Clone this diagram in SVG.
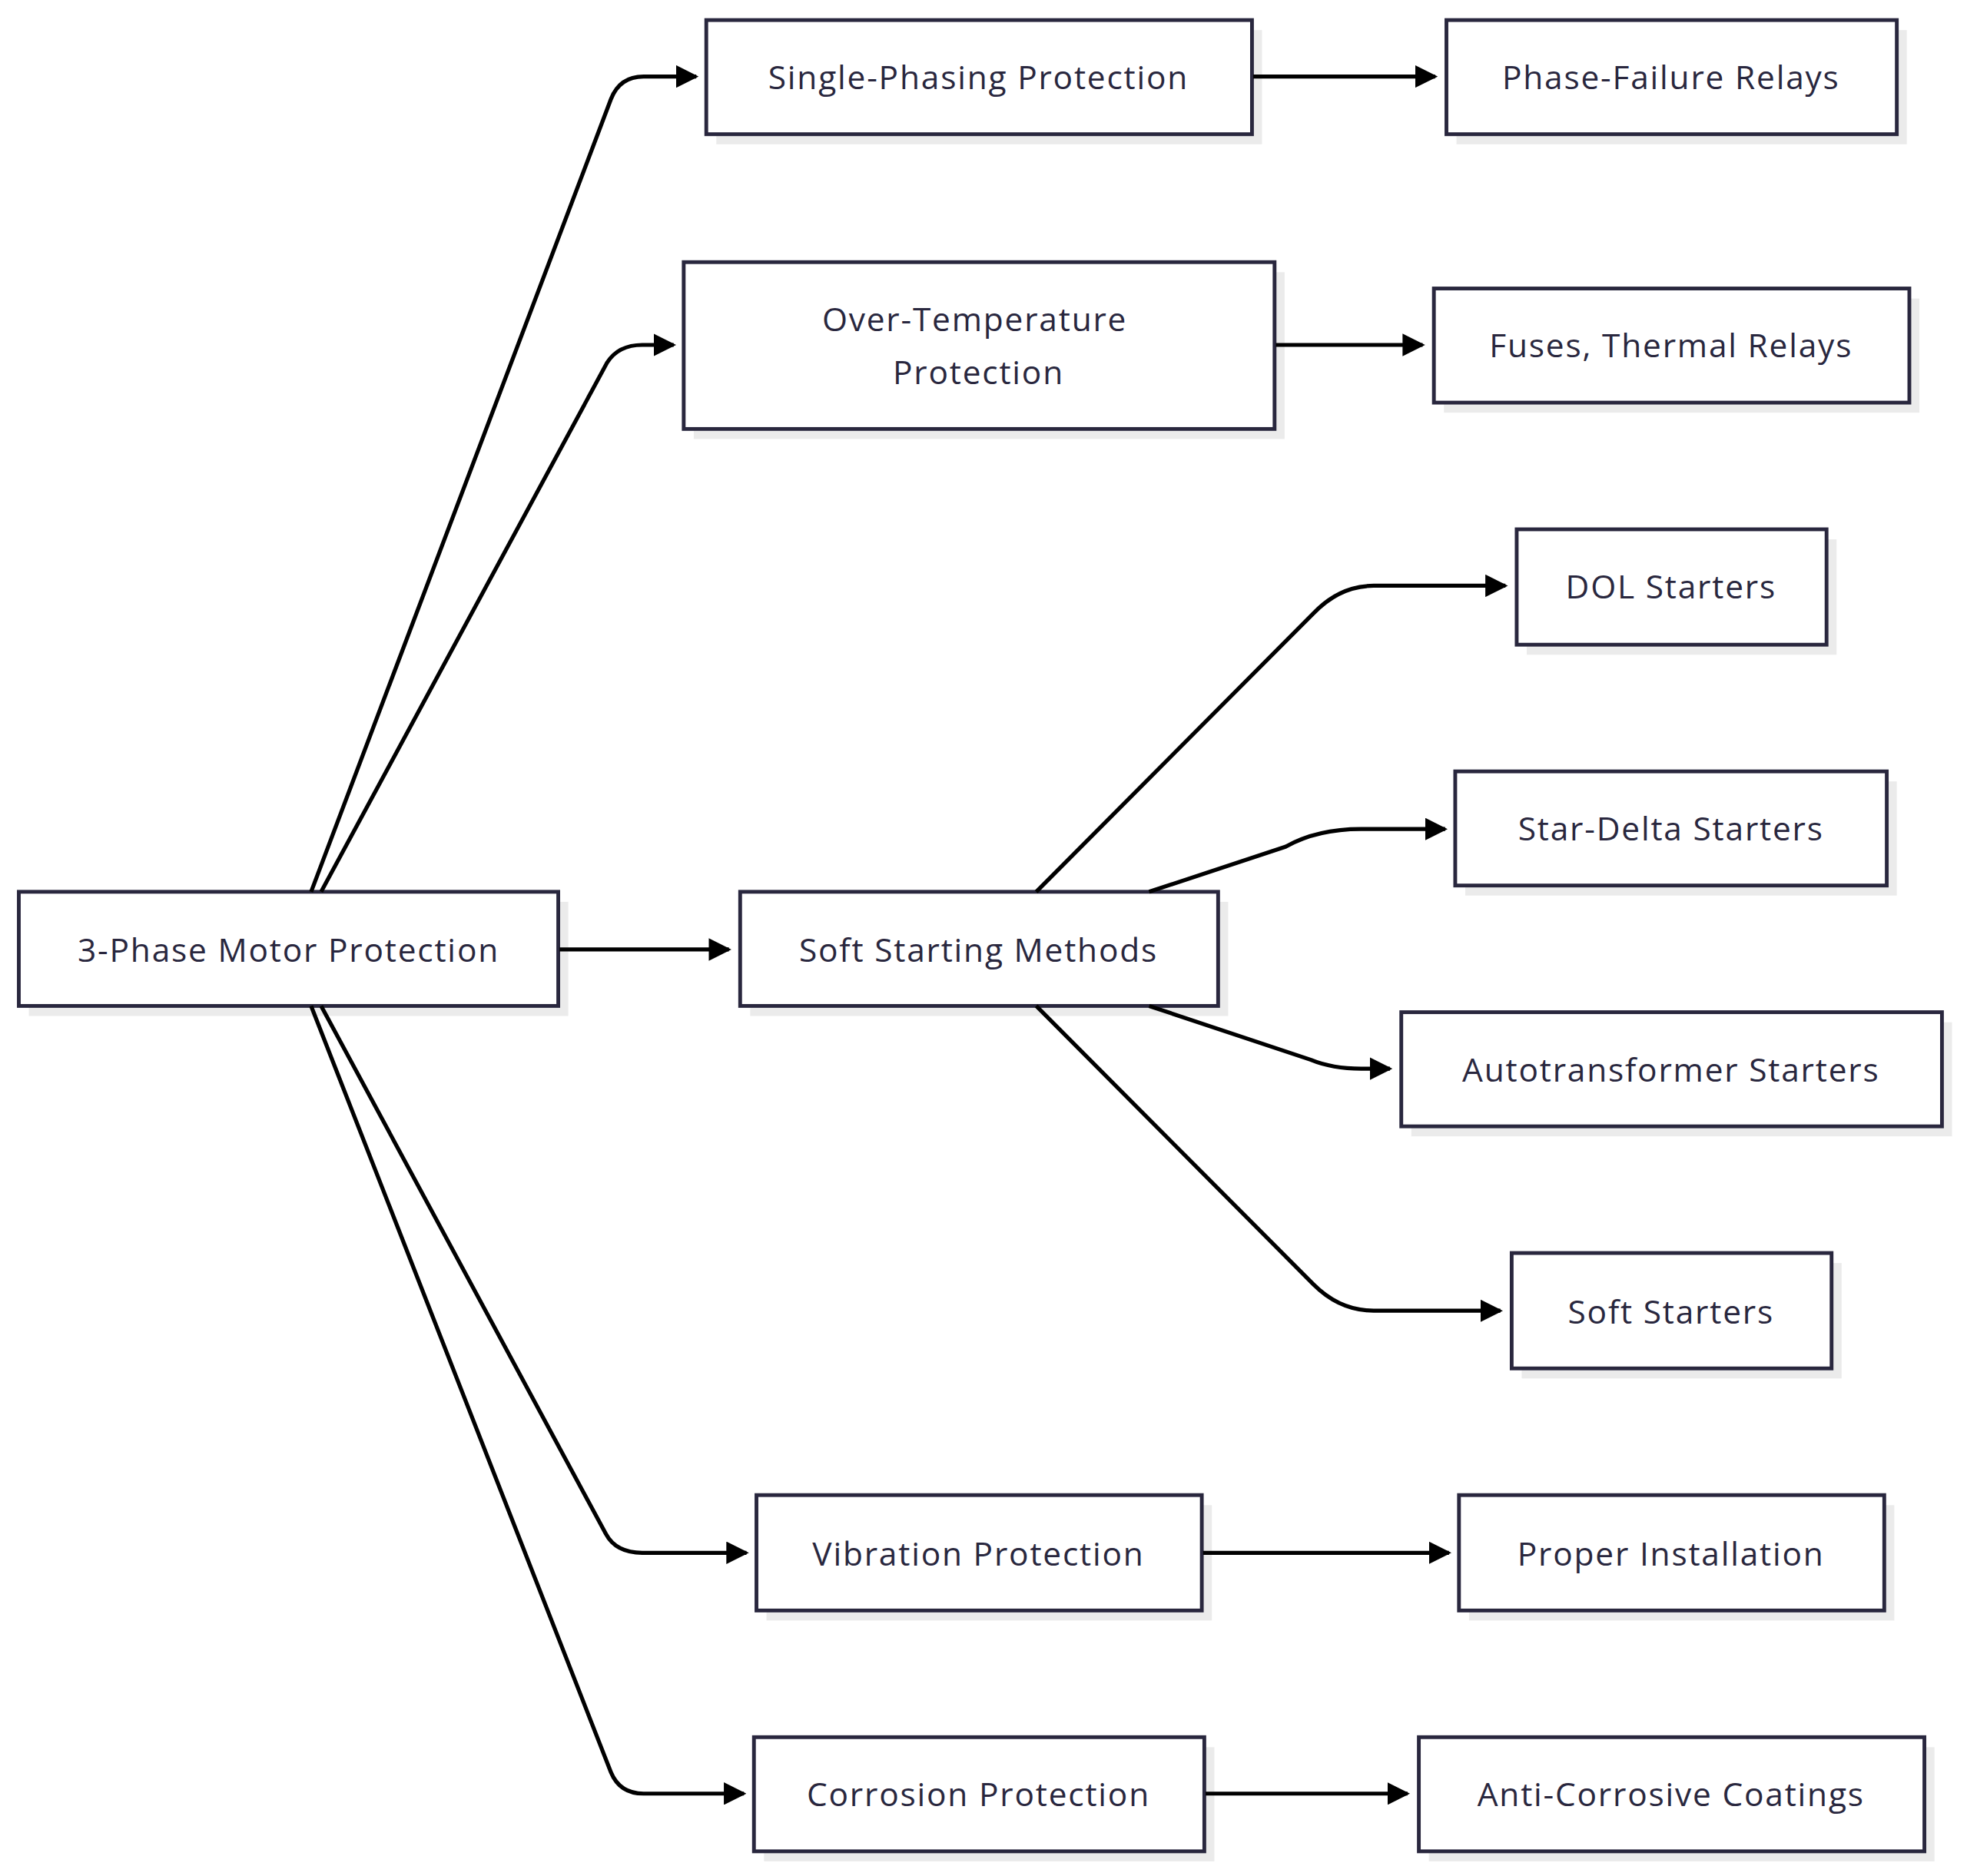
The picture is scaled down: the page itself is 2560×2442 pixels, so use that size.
<svg xmlns="http://www.w3.org/2000/svg" width="2560" height="2442" viewBox="0 0 2560 2442">
<style>
.n rect.s{fill:#ebebeb}
.n rect.b{fill:#fff;stroke:#29273e;stroke-width:3}
.n text{font-family:"Open Sans","DejaVu Sans",sans-serif;font-size:26px;fill:#29273e;text-anchor:middle;dominant-baseline:central;letter-spacing:1.1px}
.e path{fill:none;stroke:#000;stroke-width:3.2;marker-end:url(#a)}
</style>
<defs><marker id="a" markerUnits="userSpaceOnUse" markerWidth="18" markerHeight="18" refX="16" refY="9" orient="auto"><path d="M0,0L18,9L0,18z" fill="#000"/></marker></defs>
<rect width="2560" height="2442" fill="#fff"/>
<g transform="scale(1.6327)">
<g id="root" class="n"><rect class="s" x="23" y="719" width="430" height="91"/><rect class="b" x="15" y="711" width="430" height="91"/><text x="230" y="757">3-Phase Motor Protection</text></g>
<g id="single" class="n"><rect class="s" x="571" y="24" width="435" height="91"/><rect class="b" x="563" y="16" width="435" height="91"/><text x="780" y="61">Single-Phasing Protection</text></g>
<g id="phasefail" class="n"><rect class="s" x="1161" y="24" width="359" height="91"/><rect class="b" x="1153" y="16" width="359" height="91"/><text x="1332" y="61">Phase-Failure Relays</text></g>
<g id="overtemp" class="n"><rect class="s" x="553" y="217" width="471" height="133"/><rect class="b" x="545" y="209" width="471" height="133"/><text x="777" y="254">Over-Temperature</text><text x="780" y="296">Protection</text></g>
<g id="fuses" class="n"><rect class="s" x="1151" y="238" width="379" height="91"/><rect class="b" x="1143" y="230" width="379" height="91"/><text x="1332" y="275">Fuses, Thermal Relays</text></g>
<g id="dol" class="n"><rect class="s" x="1217" y="430" width="247" height="92"/><rect class="b" x="1209" y="422" width="247" height="92"/><text x="1332" y="467">DOL Starters</text></g>
<g id="stardelta" class="n"><rect class="s" x="1168" y="623" width="344" height="91"/><rect class="b" x="1160" y="615" width="344" height="91"/><text x="1332" y="660">Star-Delta Starters</text></g>
<g id="softstart" class="n"><rect class="s" x="598" y="719" width="381" height="91"/><rect class="b" x="590" y="711" width="381" height="91"/><text x="780" y="757">Soft Starting Methods</text></g>
<g id="auto" class="n"><rect class="s" x="1125" y="815" width="431" height="91"/><rect class="b" x="1117" y="807" width="431" height="91"/><text x="1332" y="852">Autotransformer Starters</text></g>
<g id="softstarters" class="n"><rect class="s" x="1213" y="1007" width="255" height="92"/><rect class="b" x="1205" y="999" width="255" height="92"/><text x="1332" y="1045">Soft Starters</text></g>
<g id="vib" class="n"><rect class="s" x="611" y="1200" width="355" height="92"/><rect class="b" x="603" y="1192" width="355" height="92"/><text x="780" y="1238">Vibration Protection</text></g>
<g id="proper" class="n"><rect class="s" x="1171" y="1200" width="339" height="92"/><rect class="b" x="1163" y="1192" width="339" height="92"/><text x="1332" y="1238">Proper Installation</text></g>
<g id="corr" class="n"><rect class="s" x="609" y="1393" width="359" height="91"/><rect class="b" x="601" y="1385" width="359" height="91"/><text x="780" y="1430">Corrosion Protection</text></g>
<g id="anti" class="n"><rect class="s" x="1139" y="1393" width="403" height="91"/><rect class="b" x="1131" y="1385" width="403" height="91"/><text x="1332" y="1430">Anti-Corrosive Coatings</text></g>
<g class="e">
<path d="M248,711 L487,79 Q494,61 513,61 L555,61"/>
<path d="M256,711 L484,289 Q493,275 512,275 L537,275"/>
<path d="M446,757 L581,757"/>
<path d="M256,802 L483,1223 Q491,1238 512,1238 L595,1238"/>
<path d="M248,802 L487,1413 Q494,1430 513,1430 L593,1430"/>
<path d="M999,61 L1144,61"/>
<path d="M1017,275 L1134,275"/>
<path d="M826,711 L1047,489 Q1068,467 1095,467 L1200,467"/>
<path d="M916,711 L1025,675 Q1050,661 1085,661 L1152,661"/>
<path d="M916,802 L1045,845 Q1062,852 1085,852 L1108,852"/>
<path d="M826,802 L1047,1024 Q1068,1045 1095,1045 L1196,1045"/>
<path d="M959,1238 L1155,1238"/>
<path d="M961,1430 L1122,1430"/>
</g>
</g>
</svg>
